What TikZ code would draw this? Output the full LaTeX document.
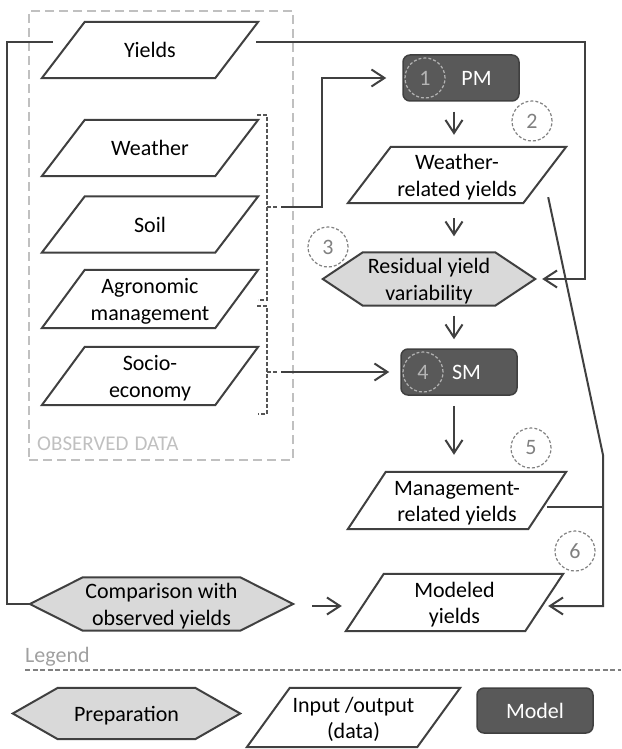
\documentclass[tikz,border=0pt]{standalone}
\usepackage{fontspec}
\setmainfont{Carlito}
\usetikzlibrary{arrows.meta,backgrounds}
\definecolor{lc}{HTML}{404040}
\definecolor{mfill}{HTML}{595959}
\definecolor{pfill}{HTML}{D9D9D9}
\definecolor{obsc}{HTML}{C0C0C0}
\definecolor{numc}{HTML}{808080}
\definecolor{inc}{HTML}{B4B4B4}
\definecolor{legc}{HTML}{A0A0A0}
\definecolor{brc}{HTML}{555555}
\newcommand{\tst}{\vrule height 21pt depth 5.5pt width 0pt}
\newcommand{\pgram}[2]{\draw[outl] ([xshift=#2]#1.north west) -- (#1.north east) -- ([xshift=-#2]#1.south east) -- (#1.south west) -- cycle;}
\newcommand{\hexa}[2]{\draw[outl,fill=pfill] ([xshift=#2]#1.north west) -- ([xshift=-#2]#1.north east) -- (#1.east) -- ([xshift=-#2]#1.south east) -- ([xshift=#2]#1.south west) -- (#1.west) -- cycle;}
\tikzset{
  every node/.style={font=\fontsize{22}{26.5}\selectfont, inner sep=0pt},
  outl/.style={draw=lc, line width=2pt, line join=miter},
  conn/.style={draw=lc, line width=2pt},
  arr/.style={conn, -{Straight Barb[length=13pt,width=17pt]}},
  databox/.style={minimum width=216pt, minimum height=56pt, align=center},
  hexbox/.style={minimum height=52pt, align=center},
  modelbox/.style={draw=lc, fill=mfill, rounded corners=7pt, line width=1.5pt, minimum width=116pt, minimum height=46pt, text=white},
  numout/.style={circle, draw=numc, dash pattern=on 3pt off 2pt, line width=1.2pt, minimum size=40pt, text=numc},
  numin/.style={numout, draw=inc, text=inc},
  brk/.style={draw=brc, line width=1.5pt, dash pattern=on 4pt off 2pt},
}
\begin{document}
\begin{tikzpicture}[x=1pt,y=-1pt]
\useasboundingbox (0,0) rectangle (621,749);

% observed data frame
\node[draw=obsc, dash pattern=on 9pt off 5pt, line width=1.8pt, minimum width=264pt, minimum height=449pt] (obs) at (161,235.5) {};
\node[anchor=base west, text=obsc, font=\fontsize{21}{25}\selectfont] (obslab) at (37,450) {OBSERVED\hspace{6pt}DATA};

% data nodes
\node[databox] (yields) at (150,50) {\tst Yields};
\node[databox] (weather) at (150,148) {\tst Weather};
\node[databox] (soil) at (150,224.5) {\tst Soil};
\node[databox, minimum height=58pt] (agro) at (150,299) {\tst Agronomic\\\tst management};
\node[databox, minimum height=58pt] (socio) at (150,376) {\tst Socio-\\\tst economy};
\node[databox, minimum width=218pt] (wry) at (457,175) {\tst Weather-\\\tst related yields};
\node[hexbox, minimum width=212pt] (res) at (429,279) {\tst Residual yield\\\tst variability};
\node[databox, minimum width=218pt, minimum height=57pt] (mgmt) at (457,500.5) {\tst Management-\\\tst related yields};
\node[databox, minimum width=217pt, minimum height=57pt] (modeled) at (454.5,602.5) {\tst Modeled\\\tst yields};
\node[hexbox, minimum width=263pt] (comp) at (161.5,604) {\tst Comparison with\\\tst observed yields};

% models
\node[modelbox] (pm) at (461,78) {\hspace*{31pt}PM};
\node[modelbox] (sm) at (459,372) {\hspace*{15pt}SM};
\node[numin] (c1) at (425,78) {1};
\node[numin] (c4) at (423,372) {4};
\node[numout] (c2) at (532,121) {2};
\node[numout] (c3) at (328,247) {3};
\node[numout] (c5) at (531,448) {5};
\node[numout] (c6) at (575,551) {6};

% legend
\node[anchor=base west, text=legc] (leg) at (25,662) {Legend};
\coordinate (l1) at (25,670);
\coordinate (l2) at (621,670);
\draw[draw=numc, line width=1.8pt, dash pattern=on 5pt off 2.5pt] (l1) -- (l2);
\node[hexbox, minimum width=227pt, minimum height=51pt] (prep) at (126.5,713.5) {\tst Preparation};
\node[databox, minimum width=213pt, minimum height=59pt] (io) at (353.5,717.5) {\tst Input /output\\\tst (data)};
\node[modelbox, minimum height=45pt] (model) at (535,710.5) {Model};

% shapes behind text
\begin{scope}[on background layer]
\pgram{yields}{43pt}
\pgram{weather}{43pt}
\pgram{soil}{43pt}
\pgram{agro}{43pt}
\pgram{socio}{43pt}
\pgram{wry}{43pt}
\pgram{mgmt}{38pt}
\pgram{modeled}{38pt}
\pgram{io}{43pt}
\hexa{res}{40pt}
\hexa{comp}{53pt}
\hexa{prep}{45pt}
\end{scope}

% brackets
\draw[brk] (257,115) -- (267,115) -- (267,300) -- (258,300);
\draw[brk] (267,207) -- (277,207);
\draw[brk] (257,306) -- (267,306) -- (267,414) -- (258,414);
\draw[brk] (267,372) -- (277,372);
\coordinate (b1) at (281,207);
\coordinate (b2) at (281,372);

% connectors
\coordinate (lft) at (7,604);
\coordinate (rgt) at (585,279);
\coordinate (k1) at (603,455);
\coordinate (k2) at (603,507);
\draw[conn] ([xshift=11pt,yshift=8pt]yields.west) -| (lft) -- (comp.west);
\draw[arr] ([xshift=-2pt,yshift=8pt]yields.east) -| (rgt) -- ([xshift=7pt]res.east);
\draw[arr] (b1) -| ([xshift=-80pt]pm.west) -- ([xshift=-16pt]pm.west);
\draw[arr] (b2) -- ([xshift=-11pt]sm.west);
\draw[arr] ([xshift=-7pt,yshift=-10pt]pm.south) -- ([xshift=-3pt,yshift=12pt]wry.north);
\draw[arr] ([xshift=-3pt,yshift=-15pt]wry.south) -- ([xshift=25pt,yshift=16pt]res.north);
\draw[arr] ([xshift=25pt,yshift=-10pt]res.south) -- ([xshift=-5pt,yshift=9pt]sm.north);
\draw[arr] ([xshift=-5pt,yshift=-10pt]sm.south) -- ([xshift=-3pt,yshift=17pt]mgmt.north);
\draw[arr] ([xshift=-18pt,yshift=6pt]wry.south east) -- (k1) |- ([xshift=-15pt,yshift=-3.5pt]modeled.east);
\draw[conn] ([xshift=-19pt,yshift=-6.5pt]mgmt.east) -- (k2);
\draw[arr] ([xshift=19pt,yshift=-2pt]comp.east) -- ([xshift=-4pt,yshift=-3.5pt]modeled.west);
\end{tikzpicture}
\end{document}
